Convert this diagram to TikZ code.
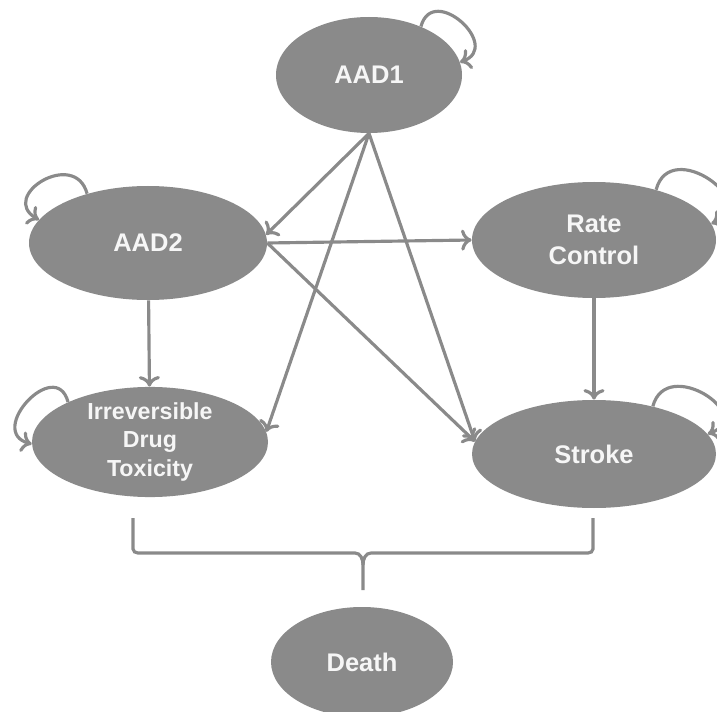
\documentclass[tikz,border=0pt]{standalone}
\usepackage{fontspec}
\setmainfont{Liberation Sans}
\usepackage{xcolor}
\usepackage{tikz}
\usetikzlibrary{shapes.geometric,arrows.meta}

\definecolor{stategray}{HTML}{8A8A8A}
\definecolor{labelwhite}{HTML}{F6F6F6}

\begin{document}
\begin{tikzpicture}[
            every node/.append style = {align = center},
            state/.style = {ellipse, fill = stategray, inner sep = 0pt,
                text = labelwhite, font = \bfseries\fontsize{14.5}{18}\selectfont},
            trans/.style = {draw = stategray, line width = 1.8pt,
                -{To[length = 6pt, width = 12pt]}},
            selfloop/.style = {trans, looseness = 2.2},
            bracket/.style = {draw = stategray, line width = 1.8pt}]
            \useasboundingbox (0,0) rectangle (14.34,14.22);
            \node[state, minimum width = 3.72cm, minimum height = 2.32cm] (aad1) at (7.38,12.72) {AAD1};
            \node[state, minimum width = 4.76cm, minimum height = 2.28cm] (aad2) at (2.96,9.36) {AAD2};
            \node[state, minimum width = 4.88cm, minimum height = 2.32cm] (rate) at (11.88,9.42) {Rate\\Control};
            \node[state, minimum width = 4.72cm, minimum height = 2.20cm,
                font = \bfseries\fontsize{13.2}{16}\selectfont] (tox) at (3.00,5.38) {Irreversible\\Drug\\Toxicity};
            \node[state, minimum width = 4.88cm, minimum height = 2.16cm] (stroke) at (11.88,5.14) {Stroke};
            \node[state, minimum width = 3.64cm, minimum height = 2.20cm] (death) at (7.24,0.98) {Death};

            \draw[trans] (aad1.south) -- (aad2.4);
            \draw[trans] (aad1.south) -- (tox.5);
            \draw[trans] (aad1.south) -- (stroke.174);
            \draw[trans] (aad2.east) -- (rate.west);
            \draw[trans] (aad2.east) -- (stroke.174);
            \draw[trans] (aad2) -- (tox);
            \draw[trans] (rate) -- (stroke);

            \draw[selfloop] (aad1.43) to[out = 75, in = 20] (aad1.8);
            \draw[selfloop] (aad2.141) to[out = 105, in = 150] (aad2.168);
            \draw[selfloop] (rate.39) to[out = 75, in = 20] (rate.8);
            \draw[selfloop] (tox.154) to[out = 105, in = 165] (tox.181);
            \draw[selfloop] (stroke.39) to[out = 75, in = 20] (stroke.10);

            \coordinate (bleft) at (2.66,3.86);
            \coordinate (bright) at (11.86,3.86);
            \coordinate (btip) at (7.26,2.42);
            \draw[bracket] (bleft) -- (2.66,3.24) to[out = -90, in = 180] (2.76,3.16)
                -- (7.10,3.16) to[out = 0, in = 90] (7.26,2.92) -- (btip);
            \draw[bracket] (bright) -- (11.86,3.24) to[out = -90, in = 0] (11.76,3.16)
                -- (7.42,3.16) to[out = 180, in = 90] (7.26,2.92);
        \end{tikzpicture}
\end{document}
